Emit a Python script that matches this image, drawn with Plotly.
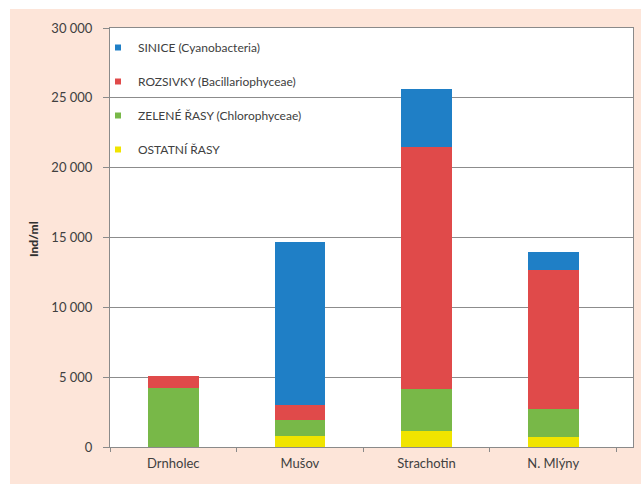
import plotly.graph_objects as go

# Phytoplankton abundance by site (individuals per ml)
site_labels = ["Drnholec", "Mušov", "Strachotin", "N. Mlýny"]
ostatni = [0, 800, 1150, 700]
zelene = [4200, 1150, 3000, 2000]
rozsivky = [900, 1050, 17300, 9950]
sinice = [0, 11650, 4150, 1300]

series = [
    ("OSTATNÍ ŘASY", ostatni, "#f0e400"),
    ("ZELENÉ ŘASY (Chlorophyceae)", zelene, "#78b848"),
    ("ROZSIVKY (Bacillariophyceae)", rozsivky, "#e04a4a"),
    ("SINICE (Cyanobacteria)", sinice, "#1f7fc6"),
]

y_ticks = [0, 5000, 10000, 15000, 20000, 25000, 30000]

W, H = 641, 484
ML, MR, MT, MB = 110, 8, 28, 37
PW, PH = W - ML - MR, H - MT - MB

def px_x(p):
    return (p - ML) / PW

def px_y(p):
    return (H - MB - p) / PH

fig = go.Figure()
for name, vals, color in series:
    fig.add_trace(go.Bar(
        x=site_labels, y=vals, name=name, marker_color=color,
        marker_line_width=0, showlegend=False,
    ))
# small square legend keys, top entry first
for i, (name, vals, color) in enumerate(reversed(series)):
    fig.add_trace(go.Scatter(
        x=[None], y=[None], mode="markers", name=name,
        marker=dict(symbol="square", size=6, color=color),
        legendgroup=f"g{i}",
    ))

tick_text = [f"{v:,}".replace(",", " ") for v in y_ticks]

fig.update_layout(
    width=W, height=H,
    margin=dict(l=ML, r=MR, t=MT, b=MB),
    paper_bgcolor="#fde5d9",
    plot_bgcolor="#ffffff",
    barmode="stack",
    bargap=0.6,
    font=dict(family="Lato", color="#404040"),
    xaxis=dict(
        range=[-0.5, 3.63], showgrid=False, showline=True, linecolor="#8a8a8a",
        mirror=True, ticks="outside", tickson="boundaries", ticklen=4,
        tickcolor="#8a8a8a", ticklabelstandoff=4,
        tickfont=dict(size=13, color="#404040"),
        fixedrange=True,
    ),
    yaxis=dict(
        range=[0, 30000], tickvals=y_ticks, ticktext=tick_text,
        showgrid=True, gridcolor="#8c8c8c", gridwidth=1,
        showline=True, linecolor="#8a8a8a", mirror=True,
        ticks="outside", ticklen=6, tickcolor="#8a8a8a",
        ticklabelstandoff=8,
        tickfont=dict(size=13, color="#404040"), zeroline=False,
    ),
    legend=dict(
        x=px_x(98), y=px_y(33), xanchor="left", yanchor="top",
        bgcolor="rgba(255,255,255,0)", font=dict(size=12, color="#404040"),
        traceorder="grouped", tracegroupgap=15, itemwidth=30,
    ),
    annotations=[dict(
        text="Ind/ml", textangle=-90, x=px_x(33), y=px_y(239),
        xref="paper", yref="paper", xanchor="center", yanchor="middle",
        showarrow=False,
        font=dict(size=12, color="#303030", family="Lato Black"),
    )],
    shapes=[
        dict(type="rect", xref="paper", yref="paper", x0=px_x(0), x1=px_x(10),
             y0=px_y(H), y1=px_y(0), fillcolor="#ffffff", line_width=0, layer="above"),
        dict(type="rect", xref="paper", yref="paper", x0=px_x(0), x1=px_x(W),
             y0=px_y(9), y1=px_y(0), fillcolor="#ffffff", line_width=0, layer="above"),
    ],
)

fig.write_html("out.html")
